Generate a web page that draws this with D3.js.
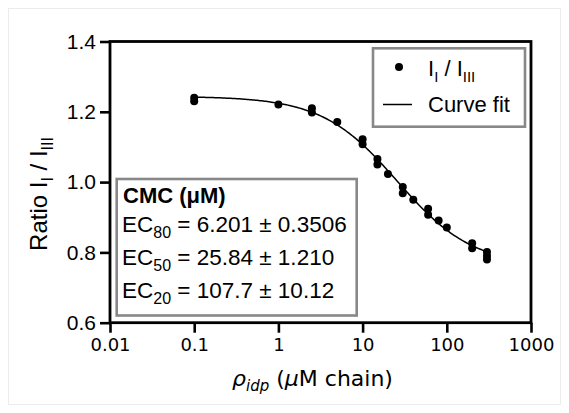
<!DOCTYPE html>
<html>
<head>
<meta charset="utf-8">
<script src="https://cdn.jsdelivr.net/npm/d3@7"></script>
<style>
  html, body { margin: 0; padding: 0; background: #fff; }
  svg { display: block; }
</style>
</head>
<body>
<script>
// Pyrene I1/I3 ratio versus IDP chain concentration
const concentrations = [0.1, 0.1, 1, 2.5, 2.5, 5, 10, 10, 15, 15, 20, 30, 30, 40, 60, 60, 80, 100, 200, 200, 300, 300, 300];
const ratios = [1.240, 1.230, 1.221, 1.210, 1.198, 1.171, 1.122, 1.108, 1.066, 1.050, 1.023, 0.986, 0.968, 0.950, 0.924, 0.907, 0.891, 0.871, 0.826, 0.812, 0.801, 0.790, 0.780];

// Fitted sigmoid parameters (concentrations in µM chain)
const ec80 = 6.201, ec50 = 25.84, ec20 = 107.7;
const fitTop = 1.244, fitBottom = 0.761;
const hillSlope = Math.log(16) / Math.log(ec20 / ec80);
const fitRange = [0.1, 300];

const xTicks = [0.01, 0.1, 1, 10, 100, 1000];
const xTickLabels = ["0.01", "0.1", "1", "10", "100", "1000"];
const yTicks = [0.6, 0.8, 1.0, 1.2, 1.4];

const cmcLines = [
  { sub: "80", text: " = 6.201 ± 0.3506" },
  { sub: "50", text: " = 25.84 ± 1.210" },
  { sub: "20", text: " = 107.7 ± 10.12" }
];

const W = 569, H = 413;
const plot = { left: 110, right: 531, top: 41.5, bottom: 322.7 };
const sans = "'Liberation Sans', Arial, Helvetica, sans-serif";
const dejavu = "'DejaVu Sans', sans-serif";

const svg = d3.select("body").append("svg")
  .attr("width", W).attr("height", H);

// faint figure border
svg.append("rect")
  .attr("x", 8.5).attr("y", 8.5).attr("width", W - 17).attr("height", H - 17)
  .attr("fill", "none").attr("stroke", "#ececec").attr("stroke-width", 1);

const x = d3.scaleLog().domain([0.01, 1000]).range([plot.left, plot.right]);
const y = d3.scaleLinear().domain([0.6, 1.4]).range([plot.bottom, plot.top]);

// axes
const xAxis = d3.axisBottom(x).tickValues(xTicks)
  .tickFormat((d, i) => xTickLabels[i]).tickSize(10).tickPadding(6).tickSizeOuter(0);
const gx = svg.append("g").attr("transform", `translate(0,${plot.bottom})`).call(xAxis);
gx.select(".domain").remove();
gx.selectAll(".tick line").attr("stroke", "#000").attr("stroke-width", 2.6);
gx.selectAll(".tick text").attr("fill", "#000")
  .style("font-family", dejavu).style("font-size", "18px");

const yAxis = d3.axisLeft(y).tickValues(yTicks)
  .tickFormat(d3.format(".1f")).tickSize(10).tickPadding(4).tickSizeOuter(0);
const gy = svg.append("g").attr("transform", `translate(${plot.left},0)`).call(yAxis);
gy.select(".domain").remove();
gy.selectAll(".tick line").attr("stroke", "#000").attr("stroke-width", 2.6);
gy.selectAll(".tick text").attr("fill", "#000")
  .style("font-family", sans).style("font-size", "21px");

// frame
svg.append("rect")
  .attr("x", plot.left).attr("y", plot.top)
  .attr("width", plot.right - plot.left).attr("height", plot.bottom - plot.top)
  .attr("fill", "none").attr("stroke", "#000").attr("stroke-width", 2.8);

// fitted curve, sampled evenly in log space
const hill = c => fitBottom + (fitTop - fitBottom) / (1 + Math.pow(c / ec50, hillSlope));
const logLo = Math.log10(fitRange[0]), logHi = Math.log10(fitRange[1]);
const curvePts = d3.range(0, 201).map(i => {
  const c = Math.pow(10, logLo + i / 200 * (logHi - logLo));
  return [c, hill(c)];
});
svg.append("path")
  .datum(curvePts)
  .attr("fill", "none").attr("stroke", "#000").attr("stroke-width", 1.5)
  .attr("d", d3.line().x(d => x(d[0])).y(d => y(d[1])));

// data points
svg.append("g").selectAll("circle")
  .data(concentrations.map((c, i) => [c, ratios[i]]))
  .join("circle")
  .attr("cx", d => x(d[0])).attr("cy", d => y(d[1])).attr("r", 4)
  .attr("fill", "#000");

// axis titles
const yl = svg.append("text")
  .attr("transform", `translate(47,194) rotate(-90)`)
  .attr("text-anchor", "middle")
  .style("font-family", sans).style("font-size", "24px").attr("fill", "#000");
yl.append("tspan").text("Ratio I");
yl.append("tspan").attr("dy", 6).style("font-size", "16px").text("I");
yl.append("tspan").attr("dy", -6).text(" / I");
yl.append("tspan").attr("dy", 6).style("font-size", "16px").text("III");

const xl = svg.append("text")
  .attr("x", (plot.left + plot.right) / 2 - 8).attr("y", 386)
  .attr("text-anchor", "middle")
  .style("font-family", dejavu).style("font-size", "22px").attr("fill", "#000");
xl.append("tspan").style("font-style", "italic").text("ρ");
xl.append("tspan").attr("dy", 5).style("font-style", "italic").style("font-size", "15px").text("idp");
xl.append("tspan").attr("dy", -5).text(" (");
xl.append("tspan").style("font-style", "italic").text("μ");
xl.append("tspan").text("M chain)");

// series legend
svg.append("rect")
  .attr("x", 373).attr("y", 48.3).attr("width", 152).attr("height", 78.4)
  .attr("fill", "#fff").attr("stroke", "#888").attr("stroke-width", 2.6);
svg.append("circle").attr("cx", 399).attr("cy", 67).attr("r", 4).attr("fill", "#000");
const lt = svg.append("text").attr("x", 428).attr("y", 76)
  .style("font-family", sans).style("font-size", "22px").attr("fill", "#000");
lt.append("tspan").text("I");
lt.append("tspan").attr("dy", 6).style("font-size", "15px").text("I");
lt.append("tspan").attr("dy", -6).text(" / I");
lt.append("tspan").attr("dy", 6).style("font-size", "15px").text("III");
svg.append("line").attr("x1", 383).attr("x2", 412).attr("y1", 104.5).attr("y2", 104.5)
  .attr("stroke", "#000").attr("stroke-width", 1.5);
svg.append("text").attr("x", 428).attr("y", 112)
  .style("font-family", sans).style("font-size", "22px").attr("fill", "#000")
  .text("Curve fit");

// CMC summary box
svg.append("rect")
  .attr("x", 116.7).attr("y", 179).attr("width", 240).attr("height", 136.5)
  .attr("fill", "#fff").attr("stroke", "#888").attr("stroke-width", 2.6);
svg.append("text").attr("x", 123).attr("y", 203)
  .style("font-family", sans).style("font-size", "22px").style("font-weight", "bold")
  .attr("fill", "#000").text("CMC (μM)");
cmcLines.forEach((l, i) => {
  const t = svg.append("text").attr("x", 122).attr("y", 232 + i * 33)
    .style("font-family", sans).style("font-size", "22.5px").attr("fill", "#000");
  t.append("tspan").text("EC");
  t.append("tspan").attr("dy", 6).style("font-size", "16px").text(l.sub);
  t.append("tspan").attr("dy", -6).text(l.text);
});
</script>
</body>
</html>
